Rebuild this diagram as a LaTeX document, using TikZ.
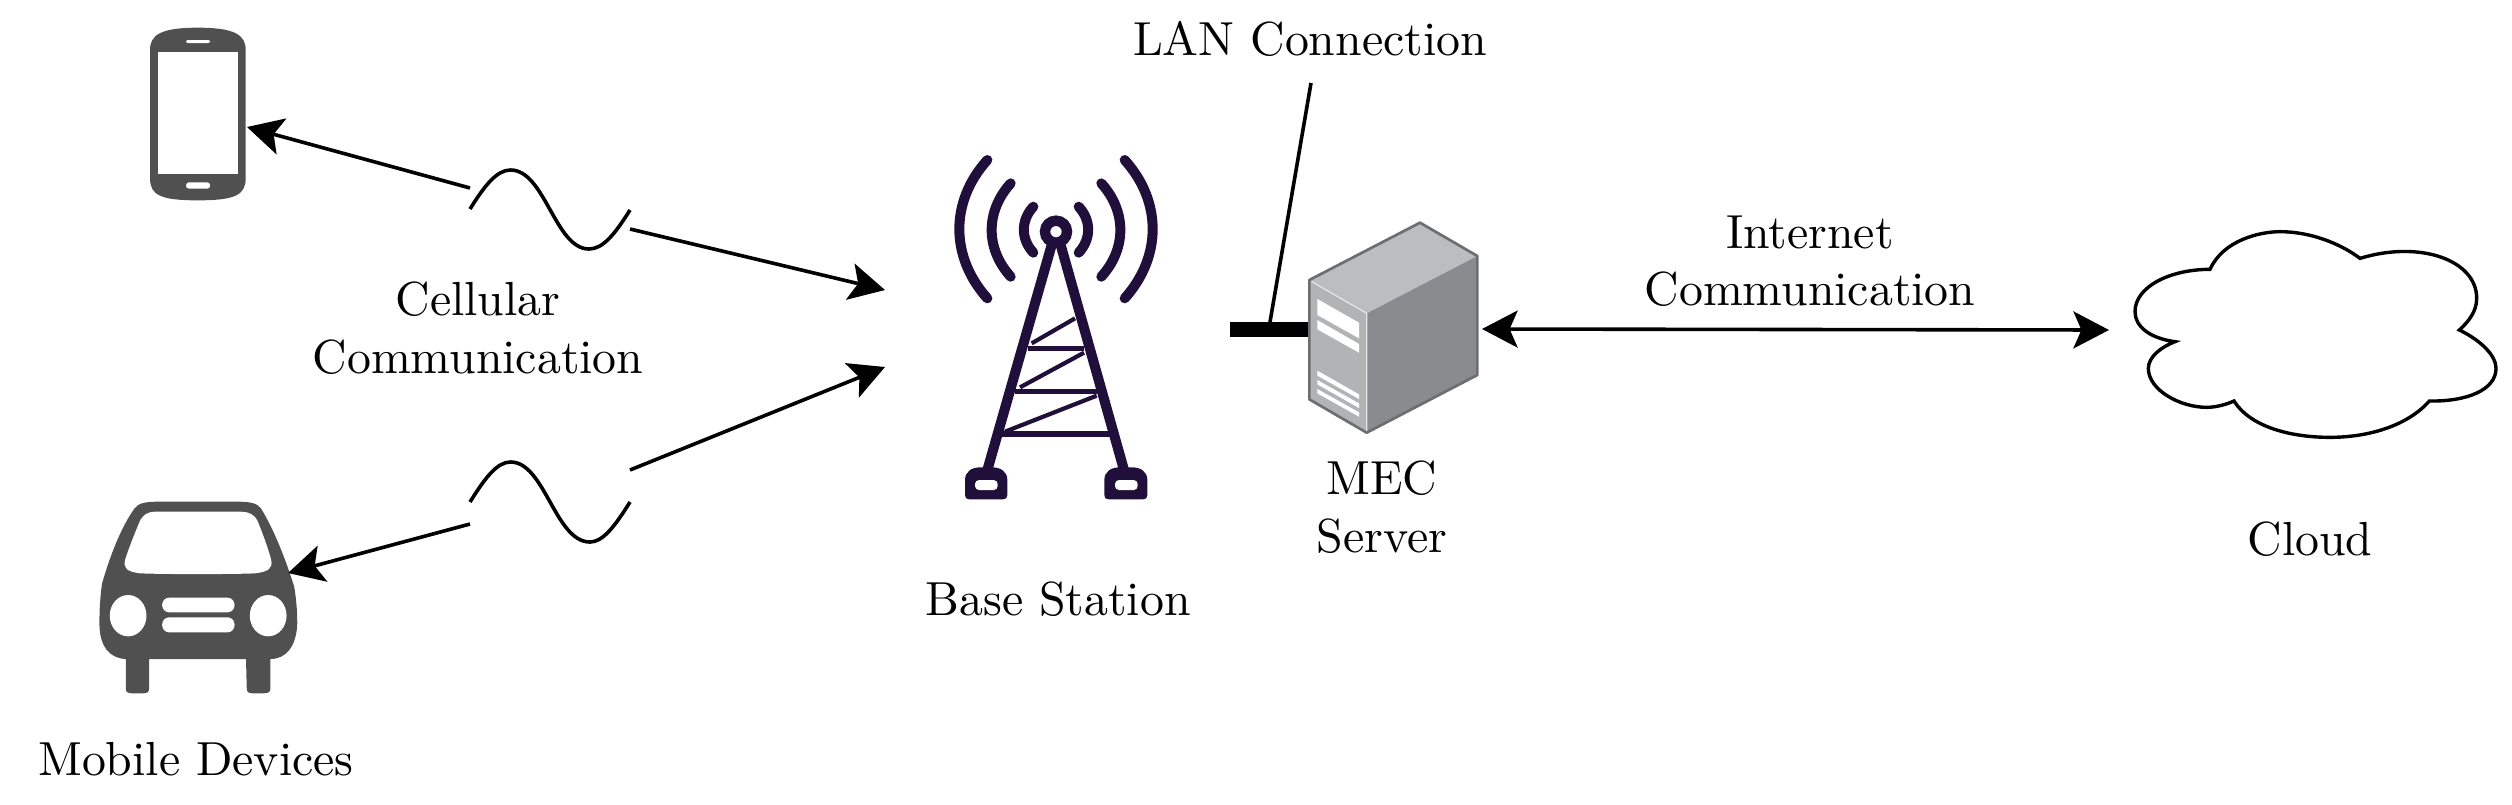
\documentclass[tikz,border=0pt]{standalone}
\usetikzlibrary{arrows.meta}
\definecolor{icongray}{HTML}{505050}
\definecolor{towerink}{HTML}{1F0F3A}
\definecolor{srvtop}{HTML}{BCBDBF}
\definecolor{srvleft}{HTML}{B2B3B5}
\definecolor{srvright}{HTML}{8A8B8E}
\definecolor{srvedge}{HTML}{6D6E71}
\definecolor{srvlight}{HTML}{E6E7E8}
\tikzset{
  lbl/.style={scale=2.39,inner sep=0pt,align=center},
  conn/.style={line width=1.8pt,draw=black},
  arrowhd/.style={-{Stealth[length=17.8pt,width=18.5pt,inset=4pt]}},
  wave/.style={line width=1.8pt,draw=black},
  zoomA/.style={x=0.19135pt,y=-0.16667pt},
  zoomB/.style={x=0.16667pt,y=-0.16667pt},
  arc/.style={draw=towerink,line width=5pt,line cap=round},
  leg/.style={draw=towerink,line width=5pt,line cap=round},
  bar/.style={draw=towerink,line width=2.6pt},
  brace/.style={draw=towerink,line width=2.1pt},
}
\begin{document}
\begin{tikzpicture}[x=0.5pt,y=-0.5pt]
\useasboundingbox (0,0) rectangle (2512,804);
% end points
\coordinate (phoneTip) at (247,127);
\coordinate (w1a) at (470,188);
\coordinate (w1b) at (630,229);
\coordinate (towerTip1) at (885,290);
\coordinate (carTip) at (288,573);
\coordinate (w2a) at (470,524);
\coordinate (w2b) at (630,470);
\coordinate (towerTip2) at (885,367);
\coordinate (srvTip) at (1482,329);
\coordinate (cloudTip) at (2109,330);
\coordinate (lanTop) at (1311,83);
\coordinate (lanFoot) at (1270,322);
% phone
\begin{scope}[shift={(80,0)},zoomA]
\fill[icongray] (183,150) .. controls (183,105) and (210,83) .. (308,83) .. controls (405,83) and (433,105) .. (433,150) -- (433,535) .. controls (433,585) and (405,601) .. (308,601) .. controls (210,601) and (183,585) .. (183,535) -- cycle;
\fill[white] (205,155) rectangle (412,521);
\fill[white,rounded corners=1pt] (277,120) rectangle (340,129);
\fill[white,rounded corners=1.5pt] (277,547) rectangle (340,566);
\end{scope}
% car
\begin{scope}[shift={(60,420)},zoomA]
\fill[icongray] (260,245) -- (460,245) .. controls (500,245) and (515,250) .. (525,265) .. controls (560,330) and (590,420) .. (612,500) .. controls (618,540) and (620,580) .. (620,610) .. controls (618,680) and (590,717) .. (550,717) -- (550,805) .. controls (550,816) and (545,820) .. (530,820) -- (505,820) .. controls (492,820) and (488,816) .. (488,805) -- (486,717) -- (233,717) -- (233,805) .. controls (233,816) and (228,820) .. (215,820) -- (190,820) .. controls (176,820) and (172,816) .. (172,805) -- (172,717) .. controls (130,715) and (103,680) .. (103,610) .. controls (103,570) and (105,530) .. (110,490) .. controls (130,410) and (160,320) .. (195,265) .. controls (205,250) and (220,245) .. (260,245) -- cycle;
\fill[white] (250,275) -- (470,275) .. controls (495,275) and (508,285) .. (515,300) .. controls (530,340) and (545,390) .. (552,420) .. controls (556,445) and (545,455) .. (510,460) .. controls (450,463) and (270,463) .. (210,460) .. controls (175,455) and (165,445) .. (170,420) .. controls (178,390) and (195,340) .. (210,300) .. controls (218,285) and (228,275) .. (250,275) -- cycle;
\fill[white] (178,587) ellipse [x radius=48,y radius=62];
\fill[white] (544,587) ellipse [x radius=48,y radius=62];
\fill[white,rounded corners=3.5pt] (267,533) rectangle (456,577);
\fill[white,rounded corners=3.5pt] (267,592) rectangle (456,637);
\end{scope}
% tower
\begin{scope}[shift={(900,130)},zoomB]
\draw[arc] (400,230) .. controls (362,271) and (362,327) .. (400,368);
\draw[arc] (332,160) .. controls (256,244) and (256,356) .. (332,440);
\draw[arc] (262,90) .. controls (150,214) and (150,380) .. (262,505);
\draw[arc] (536,230) .. controls (574,271) and (574,327) .. (536,368);
\draw[arc] (604,160) .. controls (680,244) and (680,356) .. (604,440);
\draw[arc] (674,90) .. controls (786,214) and (786,380) .. (674,505);
\draw[leg] (455,345) -- (262,1020);
\draw[leg] (482,345) -- (672,1020);
\draw[draw=towerink,line width=5.2pt] (468,305) circle [radius=33];
\draw[bar] (385,655) -- (552,655);
\draw[bar] (345,785) -- (590,785);
\draw[bar] (305,912) -- (630,912);
\draw[brace] (395,640) -- (525,565);
\draw[brace] (360,772) -- (552,668);
\draw[brace] (315,905) -- (590,797);
\fill[towerink] (195,1095) -- (195,1050) .. controls (195,1025) and (215,1012) .. (240,1012) -- (277,1012) .. controls (302,1012) and (322,1025) .. (322,1050) -- (322,1095) .. controls (322,1104) and (318,1108) .. (309,1108) -- (208,1108) .. controls (199,1108) and (195,1104) .. (195,1095) -- cycle;
\fill[towerink] (613,1095) -- (613,1050) .. controls (613,1025) and (633,1012) .. (658,1012) -- (697,1012) .. controls (722,1012) and (742,1025) .. (742,1050) -- (742,1095) .. controls (742,1104) and (738,1108) .. (729,1108) -- (626,1108) .. controls (617,1108) and (613,1104) .. (613,1095) -- cycle;
\fill[white,rounded corners=2pt] (225,1050) rectangle (293,1080);
\fill[white,rounded corners=2pt] (645,1050) rectangle (713,1080);
\end{scope}
% LAN bar and connector
\begin{scope}[shift={(1200,200)},zoomB]
\fill[black] (90,365) rectangle (332,412);
% server
\fill[srvtop] (660,68) -- (832,168) -- (500,340) -- (328,240) -- cycle;
\fill[srvleft] (328,240) -- (500,340) -- (500,698) -- (328,598) -- cycle;
\fill[srvright] (500,340) -- (832,168) -- (832,525) -- (500,698) -- cycle;
\draw[srvlight,line width=0.6pt] (335,245) -- (500,340) -- (500,695);
\draw[srvedge,line width=1.35pt,line join=round] (660,68) -- (832,168) -- (832,525) -- (500,698) -- (328,598) -- (328,240) -- cycle;
\fill[white] (352,297) -- (477,368) -- (477,415) -- (352,345) -- cycle;
\fill[white] (352,360) -- (477,432) -- (477,458) -- (352,388) -- cycle;
\fill[white] (352,512) -- (477,583) -- (477,597) -- (352,527) -- cycle;
\fill[white] (352,540) -- (477,610) -- (477,624) -- (352,553) -- cycle;
\fill[white] (352,567) -- (477,637) -- (477,650) -- (352,580) -- cycle;
\end{scope}
\draw[conn] (lanTop) -- (lanFoot);
% cloud
\begin{scope}[shift={(2100,200)},zoomB]
\draw[line width=1.7pt,line join=miter] (330,208) .. controls (370,120) and (480,95) .. (540,95) .. controls (630,95) and (720,130) .. (780,175) .. controls (960,120) and (1130,180) .. (1130,295) .. controls (1130,335) and (1105,365) .. (1078,390) .. controls (1140,420) and (1188,465) .. (1188,505) .. controls (1188,570) and (1100,605) .. (988,603) .. controls (920,680) and (800,712) .. (690,712) .. controls (570,712) and (450,680) .. (402,603) .. controls (375,615) and (345,622) .. (320,622) .. controls (240,622) and (145,570) .. (145,505) .. controls (145,470) and (185,440) .. (225,425) .. controls (150,415) and (105,380) .. (105,335) .. controls (105,260) and (210,208) .. (330,208) -- cycle;
\end{scope}
% connectors
\draw[conn,arrowhd] (w1a) -- (phoneTip);
\draw[conn,arrowhd] (w1b) -- (towerTip1);
\draw[conn,arrowhd] (w2a) -- (carTip);
\draw[conn,arrowhd] (w2b) -- (towerTip2);
\draw[conn,{Stealth[length=17.8pt,width=18.5pt,inset=4pt]}-{Stealth[length=17.8pt,width=18.5pt,inset=4pt]}] (srvTip) -- (cloudTip);
% waves
\draw[wave] (470,209) .. controls (485,185) and (497,170) .. (510.5,170) .. controls (545,170) and (555,249) .. (589,249) .. controls (603,249) and (615,234) .. (630,210);
\draw[wave] (470,502) .. controls (485,478) and (497,462) .. (510.5,462) .. controls (545,462) and (555,542) .. (590,542) .. controls (603,542) and (615,526) .. (630,502);
% labels
\node[lbl,anchor=base] (lanL) at (1310,55) {LAN Connection};
\node[lbl] (cellL) at (478,328) {Cellular\\Communication};
\node[lbl,anchor=base] (mobL) at (196,775) {Mobile Devices};
\node[lbl,anchor=base] (baseL) at (1058,615) {Base Station};
\node[lbl] (mecL) at (1382,507) {MEC\\Server};
\node[lbl] (inetL) at (1810,261) {Internet\\Communication};
\node[lbl,anchor=base] (cloudL) at (2310,555) {Cloud};
\end{tikzpicture}
\end{document}
